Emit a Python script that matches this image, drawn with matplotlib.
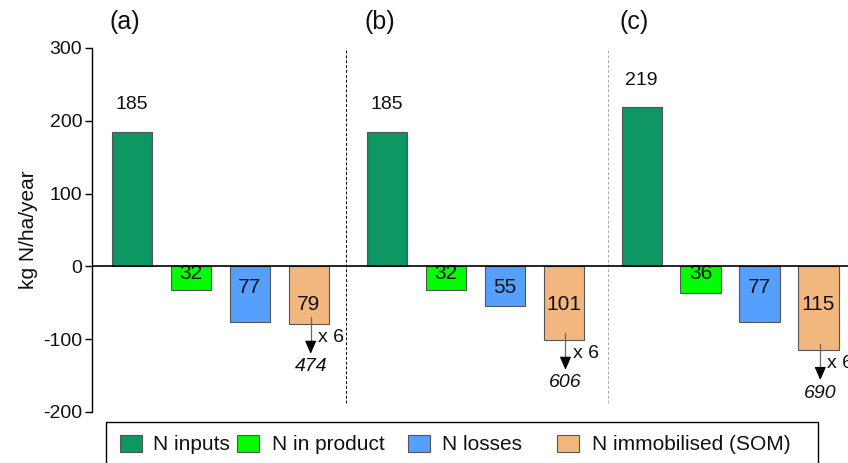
import matplotlib.pyplot as plt
from matplotlib.patches import Rectangle

plt.rcParams['font.family'] = ['Liberation Sans', 'DejaVu Sans']
plt.rcParams['axes.unicode_minus'] = False

# data
panels = ['(a)', '(b)', '(c)']
categories = ['N inputs', 'N in product', 'N losses', 'N immobilised (SOM)']
n_inputs = [185, 185, 219]
n_product = [32, 32, 36]
n_losses = [77, 55, 77]
n_immob = [79, 101, 115]
immob_total = [474, 606, 690]
factor = 6

colors = ['#0E9762', '#00FF00', '#55A0FF', '#F2B77E']
edge = '#555555'
txt = '#111111'

W, H = 848, 463
fig = plt.figure(figsize=(W / 100, H / 100), dpi=100)
ax = fig.add_axes([92 / W, 1 - 412 / H, 1 - 92 / W, (412 - 48) / H])

group_step = 4.32
width = 0.68
# y offsets for labels inside the negative bars, per category
inner_label_y = [None, -10, -29, -52]

for g in range(len(panels)):
    x0 = g * group_step
    vals = [n_inputs[g], -n_product[g], -n_losses[g], -n_immob[g]]
    xs = [x0 + i for i in range(4)]
    ax.bar(xs, vals, width=width, color=colors, edgecolor=edge, linewidth=0.8, zorder=2)
    ax.text(x0, vals[0] + 37, str(vals[0]), ha='center', va='center', fontsize=14, color=txt)
    for i in range(1, 4):
        ax.text(xs[i], inner_label_y[i], str(-vals[i]), ha='center', va='center',
                fontsize=15, zorder=3, color=txt)
    ax.text(x0 - 0.12, 336, panels[g], ha='center', va='center', fontsize=18,
            clip_on=False, color=txt)
    # arrow for scaled immobilisation
    xa = xs[3] + 0.03
    v = n_immob[g]
    ax.plot([xa, xa], [-v + 9, -v - 28], color='#666666', lw=0.9, zorder=4)
    ax.annotate('', xy=(xa, -v - 41), xytext=(xa, -v - 25),
                arrowprops=dict(arrowstyle='-|>,head_length=0.8,head_width=0.35',
                                color='black', lw=0.8, shrinkA=0, shrinkB=0),
                zorder=4)
    ax.text(xa + 0.12, -v - 19, f'x {factor}', ha='left', va='center', fontsize=14, color=txt)
    ax.text(xa, -v - 59, str(immob_total[g]), ha='center', va='center', fontsize=14,
            style='italic', color=txt)

ax.axhline(0, color='black', lw=1.2, zorder=3)
ax.vlines([3.63], -188, 300, colors='black', linestyles=(0, (3, 2)), lw=0.7)
ax.vlines([8.07], -188, 300, colors='#aaaaaa', linestyles=(0, (3, 2)), lw=0.7)

ax.set_xlim(-0.678, 12.14)
ax.set_ylim(-200, 300)
ax.set_yticks([-200, -100, 0, 100, 200, 300])
ax.set_xticks([])
for s in ['top', 'right', 'bottom']:
    ax.spines[s].set_visible(False)
ax.spines['left'].set_linewidth(1.0)
ax.tick_params(axis='y', labelsize=14, length=5, width=1, pad=2, labelcolor=txt)
ax.set_ylabel('kg N/ha/year', fontsize=15, labelpad=4, color=txt)

# legend drawn by hand (uneven spacing as in the original), pixel positions
fig.patches.append(Rectangle((106 / W, -0.05), (818 - 106) / W, 1 - 422 / H + 0.05,
                             transform=fig.transFigure, facecolor='white',
                             edgecolor='black', linewidth=1.0))
box_x = [120, 237, 408, 557]
text_x = [153, 272, 442, 592]
for c, lab, bx, tx in zip(colors, categories, box_x, text_x):
    fig.patches.append(Rectangle((bx / W, 1 - 452 / H), 22 / W, 17 / H,
                                 transform=fig.transFigure, facecolor=c,
                                 edgecolor=edge, linewidth=0.8))
    fig.text(tx / W, 1 - 444 / H, lab, ha='left', va='center', fontsize=15, color=txt)

fig.savefig('out.png', dpi=100)
